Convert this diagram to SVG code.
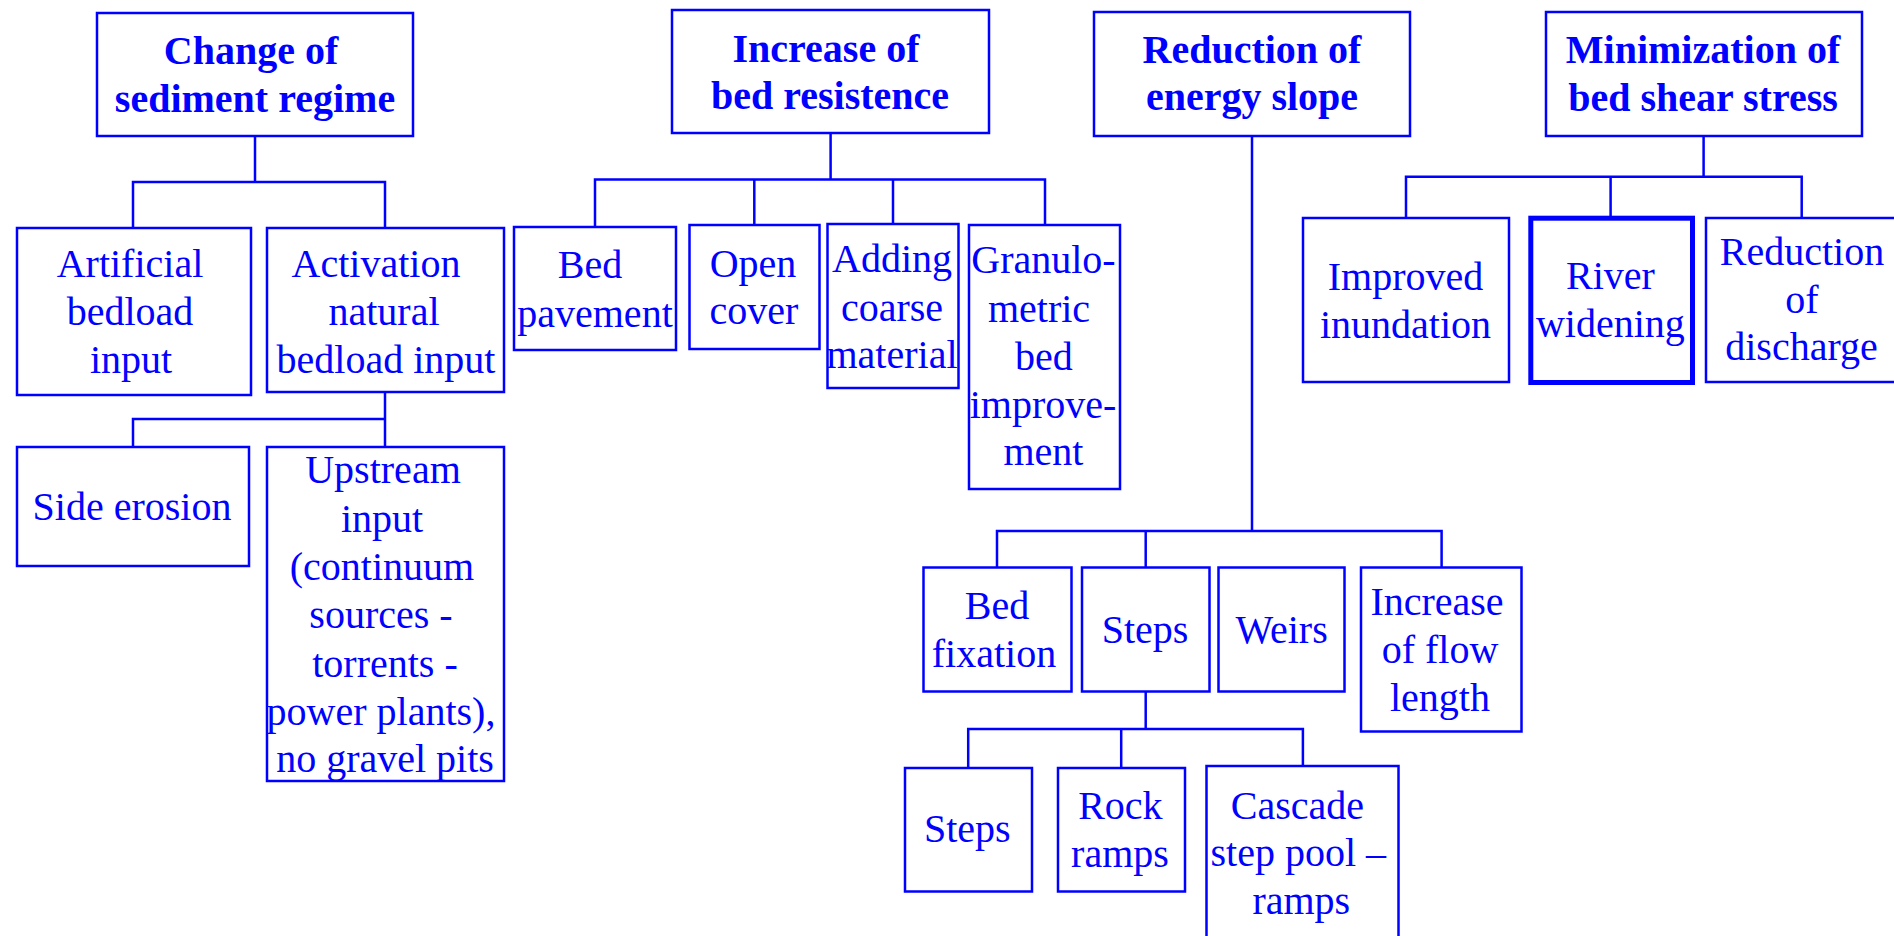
<svg xmlns="http://www.w3.org/2000/svg" width="1894" height="936" viewBox="0 0 1894 936">
<style>
.bg{fill:#ffffff}
.box{fill:none;stroke:#0000ff;stroke-width:2.5}
.thick{fill:none;stroke:#0000ff;stroke-width:5}
.ln{fill:none;stroke:#0000ff;stroke-width:2.5}
text{font-family:"Liberation Serif","Times New Roman",serif;font-size:40px;fill:#0000ff;text-anchor:middle}
.b{font-weight:bold}
</style>
<rect class="bg" x="0" y="0" width="1894" height="936"/>
<g id="connectors">
<path class="ln" d="M255,137V182M133,227V182H385V227"/>
<path class="ln" d="M385,392V419M133,447V419H385V447"/>
<path class="ln" d="M830.6,134V179.5M595,227V179.5H1045V224M754.3,179.5V224M893,179.5V223.3"/>
<path class="ln" d="M1252,137V531M997,567V531H1441.6V567M1145.7,531V567"/>
<path class="ln" d="M1145.7,692V729M968.2,768V729H1302.9V766M1121.2,729V768"/>
<path class="ln" d="M1703.6,137V176.7M1406,218V176.7H1801.7V218M1610.6,176.7V216"/>
</g>
<g id="n-sediment"><rect class="box" x="97" y="13" width="316" height="123"/><text class="b" x="251" y="64">Change of</text><text class="b" x="255" y="112">sediment regime</text></g>
<g id="n-resistence"><rect class="box" x="672" y="10" width="317" height="123"/><text class="b" x="826" y="61.7">Increase of</text><text class="b" x="830" y="109.3">bed resistence</text></g>
<g id="n-energy"><rect class="box" x="1094" y="12" width="316" height="124"/><text class="b" x="1252" y="63.3">Reduction of</text><text class="b" x="1252" y="110">energy slope</text></g>
<g id="n-shear"><rect class="box" x="1546" y="12" width="316" height="124"/><text class="b" x="1703" y="63.3">Minimization of</text><text class="b" x="1703" y="111">bed shear stress</text></g>
<g id="n-artificial"><rect class="box" x="17" y="228" width="234" height="167"/><text x="130" y="276.7">Artificial</text><text x="130" y="325">bedload</text><text x="131" y="372.7">input</text></g>
<g id="n-activation"><rect class="box" x="267" y="228" width="237" height="164"/><text x="376" y="276.7">Activation</text><text x="384" y="325">natural</text><text x="386" y="372.7">bedload input</text></g>
<g id="n-side"><rect class="box" x="17" y="447" width="232" height="119"/><text x="132" y="520">Side erosion</text></g>
<g id="n-upstream"><rect class="box" x="267" y="447" width="237" height="334"/><text x="383" y="483.3">Upstream</text><text x="382" y="531.7">input</text><text x="382" y="580">(continuum</text><text x="381" y="628.3">sources -</text><text x="385" y="676.7">torrents -</text><text x="381" y="725">power plants),</text><text x="385" y="771.7">no gravel pits</text></g>
<g id="n-pavement"><rect class="box" x="514" y="227" width="162" height="123"/><text x="590" y="278.3">Bed</text><text x="595" y="326.7">pavement</text></g>
<g id="n-open"><rect class="box" x="689.5" y="225" width="130" height="124"/><text x="753" y="276.7">Open</text><text x="754" y="324">cover</text></g>
<g id="n-adding"><rect class="box" x="827.5" y="224" width="131" height="164"/><text x="892" y="271.7">Adding</text><text x="892" y="320.7">coarse</text><text x="892" y="368.3">material</text></g>
<g id="n-granulo"><rect class="box" x="969" y="225" width="151" height="264"/><text x="1043.5" y="273.3">Granulo-</text><text x="1039" y="321.7">metric</text><text x="1044" y="370">bed</text><text x="1043" y="417.7">improve-</text><text x="1043.5" y="465">ment</text></g>
<g id="n-fixation"><rect class="box" x="923.5" y="567.5" width="148" height="124"/><text x="997" y="619">Bed</text><text x="994" y="666.7">fixation</text></g>
<g id="n-steps"><rect class="box" x="1082" y="567.5" width="127.5" height="124"/><text x="1145" y="643.3">Steps</text></g>
<g id="n-weirs"><rect class="box" x="1218.5" y="567.5" width="126" height="124"/><text x="1281.6" y="643.3">Weirs</text></g>
<g id="n-flow"><rect class="box" x="1361" y="567.5" width="160.5" height="164"/><text x="1437" y="615">Increase</text><text x="1440" y="663.3">of flow</text><text x="1440" y="710.7">length</text></g>
<g id="n-steps2"><rect class="box" x="905" y="768" width="127" height="123.5"/><text x="967.3" y="842.3">Steps</text></g>
<g id="n-rock"><rect class="box" x="1058" y="768" width="127" height="123.5"/><text x="1120.4" y="819">Rock</text><text x="1120" y="866.7">ramps</text></g>
<g id="n-cascade"><rect class="box" x="1206.5" y="766" width="192" height="200"/><text x="1297.5" y="819">Cascade</text><text x="1298.3" y="866">step pool –</text><text x="1301.3" y="914">ramps</text></g>
<g id="n-inundation"><rect class="box" x="1303" y="218" width="206" height="164"/><text x="1405.5" y="290">Improved</text><text x="1405.5" y="338.3">inundation</text></g>
<g id="n-widening"><rect class="thick" x="1530.8" y="218.2" width="161.7" height="164.3"/><text x="1610.4" y="289.3">River</text><text x="1610.4" y="337.3">widening</text></g>
<g id="n-discharge"><rect class="box" x="1706" y="218" width="194" height="164"/><text x="1802" y="265">Reduction</text><text x="1802" y="313.3">of</text><text x="1801.5" y="360">discharge</text></g>
</svg>
